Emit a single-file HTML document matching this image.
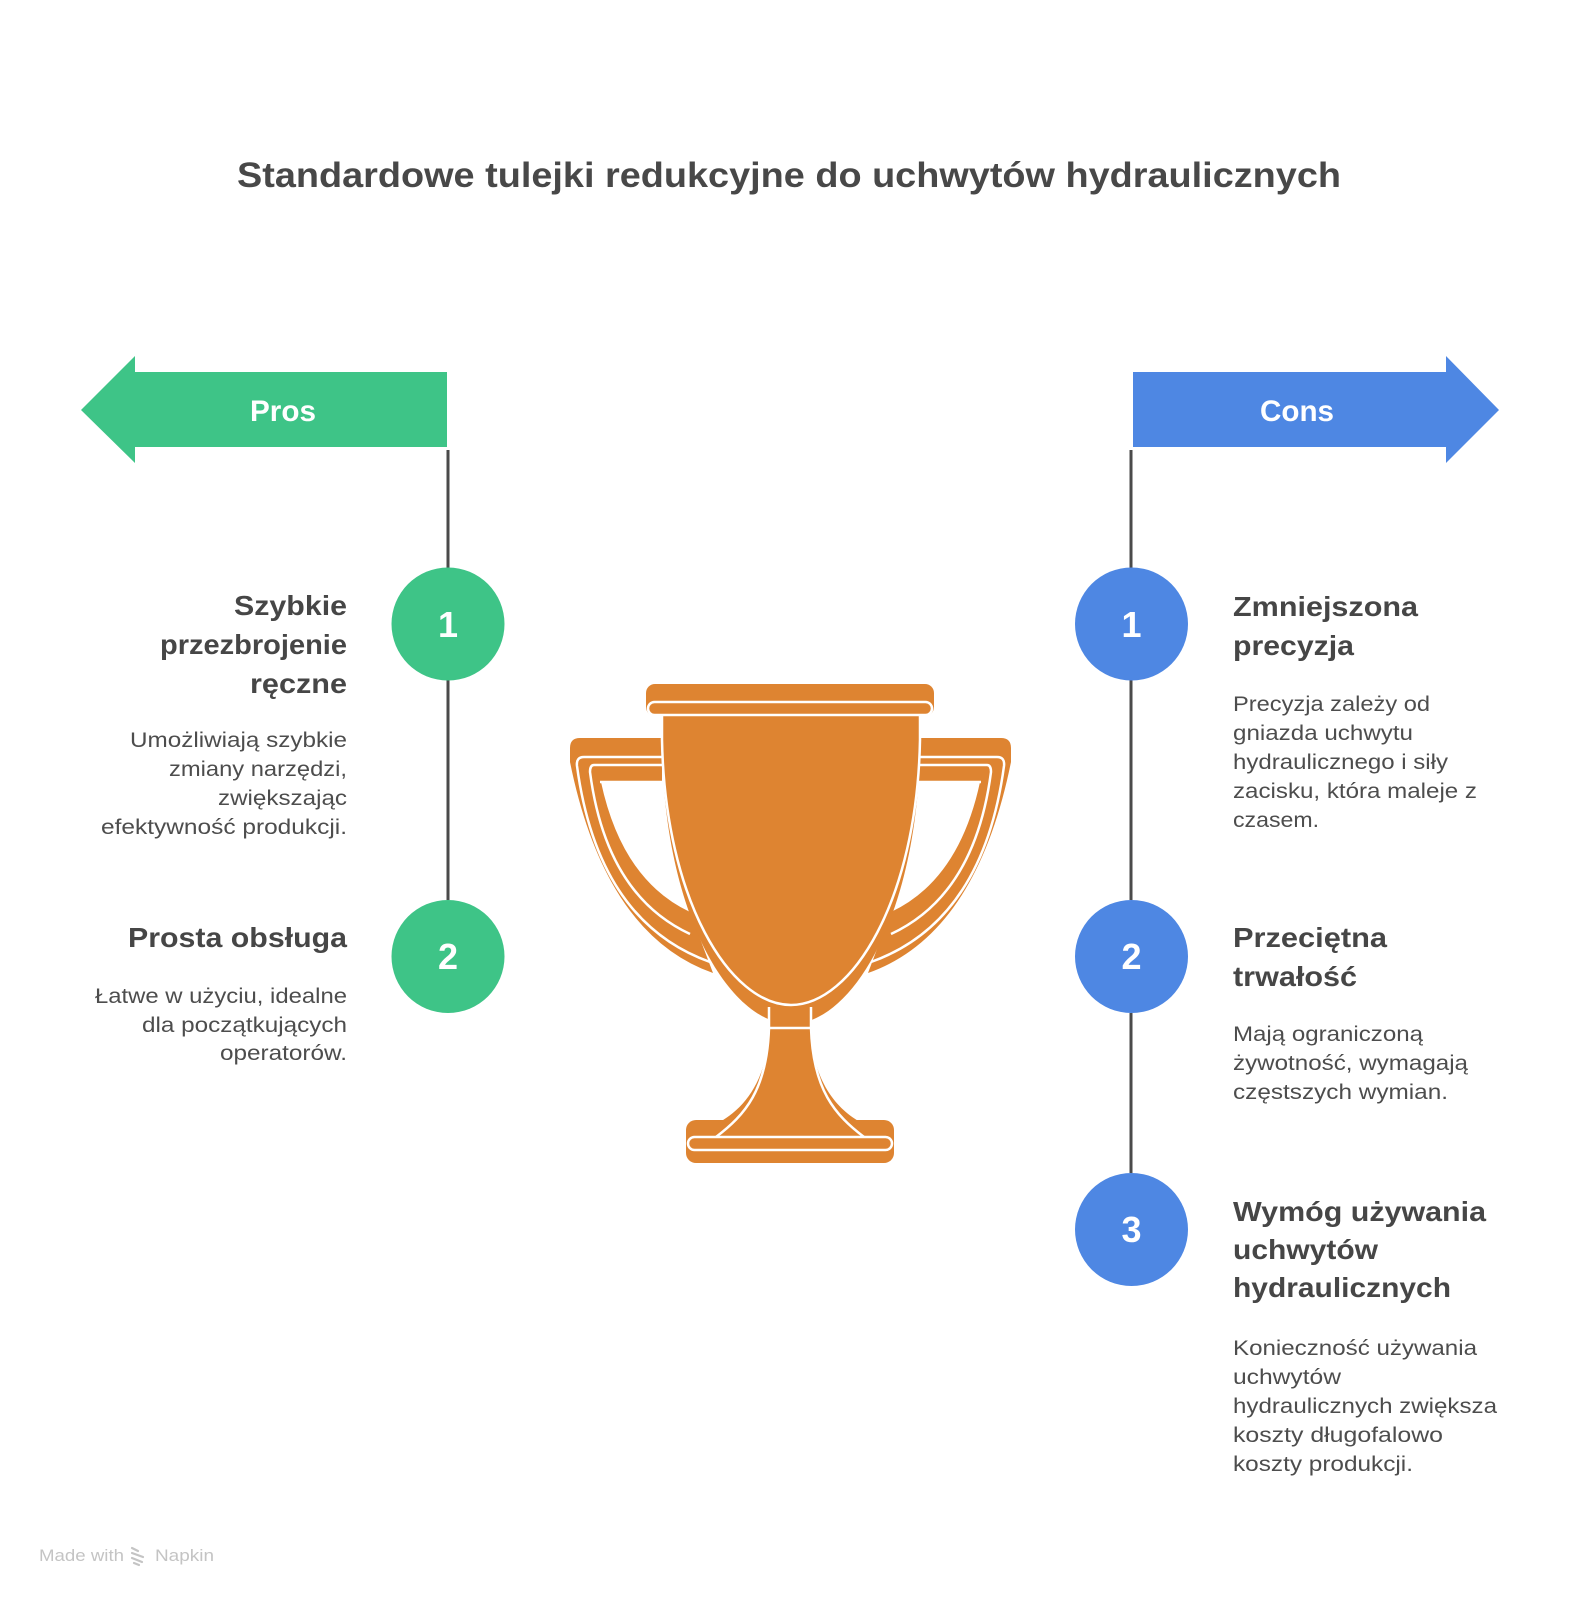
<!DOCTYPE html>
<html>
<head>
<meta charset="utf-8">
<style>
  html,body{margin:0;padding:0;background:#ffffff;}
  svg{display:block;}
  .t{font-family:"Liberation Sans","DejaVu Sans",sans-serif;}
  .h{font-weight:bold;font-size:28px;fill:#464646;}
  .d{font-size:21px;fill:#4d4d4d;}
  .n{font-weight:bold;font-size:36px;fill:#ffffff;}
</style>
</head>
<body>
<svg width="1580" height="1600" viewBox="0 0 1580 1600" xmlns="http://www.w3.org/2000/svg">
  <rect width="1580" height="1600" fill="#ffffff"/>

  <!-- Title -->
  <text class="t" x="237" y="187" font-size="35" font-weight="bold" fill="#484848" textLength="1104" lengthAdjust="spacingAndGlyphs">Standardowe tulejki redukcyjne do uchwytów hydraulicznych</text>

  <!-- Pros arrow -->
  <polygon points="81,410 135,356 135,372 447,372 447,447 135,447 135,463" fill="#3EC487"/>
  <text class="t" x="250" y="421" font-size="30" font-weight="bold" fill="#ffffff" textLength="66" lengthAdjust="spacingAndGlyphs">Pros</text>

  <!-- Cons arrow -->
  <polygon points="1133,372 1446,372 1446,356 1499,410 1446,463 1446,447 1133,447" fill="#4E87E3"/>
  <text class="t" x="1260" y="421" font-size="30" font-weight="bold" fill="#ffffff" textLength="74" lengthAdjust="spacingAndGlyphs">Cons</text>

  <!-- connector lines -->
  <g stroke="#4a4a4a" stroke-width="3">
    <line x1="448" y1="450" x2="448" y2="568"/>
    <line x1="448" y1="680" x2="448" y2="900"/>
    <line x1="1131" y1="450" x2="1131" y2="568"/>
    <line x1="1131" y1="680" x2="1131" y2="900"/>
    <line x1="1131" y1="1013" x2="1131" y2="1173"/>
  </g>

  <!-- circles -->
  <circle cx="448" cy="624" r="56.5" fill="#3EC487"/>
  <circle cx="448" cy="956.5" r="56.5" fill="#3EC487"/>
  <circle cx="1131.5" cy="624" r="56.5" fill="#4E87E3"/>
  <circle cx="1131.5" cy="956.5" r="56.5" fill="#4E87E3"/>
  <circle cx="1131.5" cy="1229.5" r="56.5" fill="#4E87E3"/>
  <text class="t n" x="448" y="637" text-anchor="middle">1</text>
  <text class="t n" x="448" y="969" text-anchor="middle">2</text>
  <text class="t n" x="1131.5" y="637" text-anchor="middle">1</text>
  <text class="t n" x="1131.5" y="969" text-anchor="middle">2</text>
  <text class="t n" x="1131.5" y="1242" text-anchor="middle">3</text>

  <!-- Left item 1 -->
  <text class="t h" x="234" y="615" textLength="113" lengthAdjust="spacingAndGlyphs">Szybkie</text>
  <text class="t h" x="160" y="654" textLength="187" lengthAdjust="spacingAndGlyphs">przezbrojenie</text>
  <text class="t h" x="250" y="693" textLength="97" lengthAdjust="spacingAndGlyphs">ręczne</text>
  <text class="t d" x="130" y="747" textLength="217" lengthAdjust="spacingAndGlyphs">Umożliwiają szybkie</text>
  <text class="t d" x="169" y="776" textLength="178" lengthAdjust="spacingAndGlyphs">zmiany narzędzi,</text>
  <text class="t d" x="218" y="805" textLength="129" lengthAdjust="spacingAndGlyphs">zwiększając</text>
  <text class="t d" x="101" y="834" textLength="246" lengthAdjust="spacingAndGlyphs">efektywność produkcji.</text>

  <!-- Left item 2 -->
  <text class="t h" x="128" y="947" textLength="219" lengthAdjust="spacingAndGlyphs">Prosta obsługa</text>
  <text class="t d" x="95" y="1003" textLength="252" lengthAdjust="spacingAndGlyphs">Łatwe w użyciu, idealne</text>
  <text class="t d" x="142" y="1032" textLength="205" lengthAdjust="spacingAndGlyphs">dla początkujących</text>
  <text class="t d" x="220" y="1060" textLength="127" lengthAdjust="spacingAndGlyphs">operatorów.</text>

  <!-- Right item 1 -->
  <text class="t h" x="1233" y="616" textLength="185" lengthAdjust="spacingAndGlyphs">Zmniejszona</text>
  <text class="t h" x="1233" y="655" textLength="121" lengthAdjust="spacingAndGlyphs">precyzja</text>
  <text class="t d" x="1233" y="711" textLength="197" lengthAdjust="spacingAndGlyphs">Precyzja zależy od</text>
  <text class="t d" x="1233" y="740" textLength="180" lengthAdjust="spacingAndGlyphs">gniazda uchwytu</text>
  <text class="t d" x="1233" y="769" textLength="215" lengthAdjust="spacingAndGlyphs">hydraulicznego i siły</text>
  <text class="t d" x="1233" y="798" textLength="244" lengthAdjust="spacingAndGlyphs">zacisku, która maleje z</text>
  <text class="t d" x="1233" y="827" textLength="86" lengthAdjust="spacingAndGlyphs">czasem.</text>

  <!-- Right item 2 -->
  <text class="t h" x="1233" y="947" textLength="154" lengthAdjust="spacingAndGlyphs">Przeciętna</text>
  <text class="t h" x="1233" y="986" textLength="124" lengthAdjust="spacingAndGlyphs">trwałość</text>
  <text class="t d" x="1233" y="1041" textLength="190" lengthAdjust="spacingAndGlyphs">Mają ograniczoną</text>
  <text class="t d" x="1233" y="1070" textLength="235" lengthAdjust="spacingAndGlyphs">żywotność, wymagają</text>
  <text class="t d" x="1233" y="1099" textLength="215" lengthAdjust="spacingAndGlyphs">częstszych wymian.</text>

  <!-- Right item 3 -->
  <text class="t h" x="1233" y="1221" textLength="253" lengthAdjust="spacingAndGlyphs">Wymóg używania</text>
  <text class="t h" x="1233" y="1259" textLength="145" lengthAdjust="spacingAndGlyphs">uchwytów</text>
  <text class="t h" x="1233" y="1297" textLength="218" lengthAdjust="spacingAndGlyphs">hydraulicznych</text>
  <text class="t d" x="1233" y="1355" textLength="244" lengthAdjust="spacingAndGlyphs">Konieczność używania</text>
  <text class="t d" x="1233" y="1384" textLength="108" lengthAdjust="spacingAndGlyphs">uchwytów</text>
  <text class="t d" x="1233" y="1413" textLength="264" lengthAdjust="spacingAndGlyphs">hydraulicznych zwiększa</text>
  <text class="t d" x="1233" y="1442" textLength="210" lengthAdjust="spacingAndGlyphs">koszty długofalowo</text>
  <text class="t d" x="1233" y="1471" textLength="180" lengthAdjust="spacingAndGlyphs">koszty produkcji.</text>

  <!-- Trophy -->
  <g id="trophy">
    <!-- handle fills -->
    <g fill="#DE8431">
      <path id="lh" d="M 570 748 Q 570 738 580 738 L 662 738 L 662 782 L 601 782 Q 622 880 690 912 L 713 973 Q 605 935 570 762 Z"/>
      <path d="M 570 748 Q 570 738 580 738 L 662 738 L 662 782 L 601 782 Q 622 880 690 912 L 713 973 Q 605 935 570 762 Z" transform="translate(1581,0) scale(-1,1)"/>
    </g>
    <!-- handle white lines -->
    <g fill="none" stroke="#ffffff" stroke-width="2.5">
      <path d="M 662 757 L 584 757 Q 576 757 577 766 Q 598 922 710 962"/>
      <path d="M 662 765 L 594 765 Q 590 765 590 772 Q 606 895 690 934"/>
      <path d="M 600 782 L 662 782"/>
      <g transform="translate(1581,0) scale(-1,1)">
        <path d="M 662 757 L 584 757 Q 576 757 577 766 Q 598 922 710 962"/>
        <path d="M 662 765 L 594 765 Q 590 765 590 772 Q 606 895 690 934"/>
        <path d="M 600 782 L 662 782"/>
      </g>
    </g>
    <!-- stem fill -->
    <path d="M 769 1005 L 811 1005 L 811 1030 C 813 1085 840 1112 864 1124 L 716 1124 C 740 1112 767 1085 769 1030 Z" fill="#DE8431"/>
    <!-- cup fill -->
    <path d="M 662 713 L 920 713 L 920 745 C 918 915 852 1024 791 1024 C 730 1024 664 915 662 745 Z" fill="#DE8431"/>
    <!-- rim -->
    <rect x="646" y="684" width="288" height="32" rx="9" fill="#DE8431"/>
    <!-- base -->
    <rect x="686" y="1120" width="208" height="43" rx="10" fill="#DE8431"/>
    <!-- white outlines -->
    <g fill="none" stroke="#ffffff" stroke-width="2.5">
      <rect x="648" y="702" width="284" height="13" rx="6.5"/>
      <path d="M 662 715 L 662 740 C 665 900 730 1005 791 1005 C 852 1005 917 900 920 740 L 920 715"/>
      <path d="M 769 1007 L 769 1028 L 811 1028 L 811 1007"/>
      <path d="M 769 1028 C 767 1090 745 1115 716 1137"/>
      <path d="M 811 1028 C 813 1090 835 1115 864 1137"/>
      <rect x="688" y="1137" width="204" height="13" rx="6.5"/>
    </g>
  </g>

  <!-- Footer -->
  <text class="t" x="39" y="1561" font-size="17" fill="#c4c4c4" textLength="85" lengthAdjust="spacingAndGlyphs">Made with</text>
  <g stroke="#c4c4c4" stroke-width="2.2" fill="none" stroke-linecap="round">
    <path d="M 132 1548 L 138 1551"/>
    <path d="M 132 1553 L 143 1557"/>
    <path d="M 132 1558 L 142 1562"/>
    <path d="M 134 1563 L 139 1565"/>
  </g>
  <text class="t" x="155" y="1561" font-size="17" fill="#c4c4c4" textLength="59" lengthAdjust="spacingAndGlyphs">Napkin</text>
</svg>
</body>
</html>
